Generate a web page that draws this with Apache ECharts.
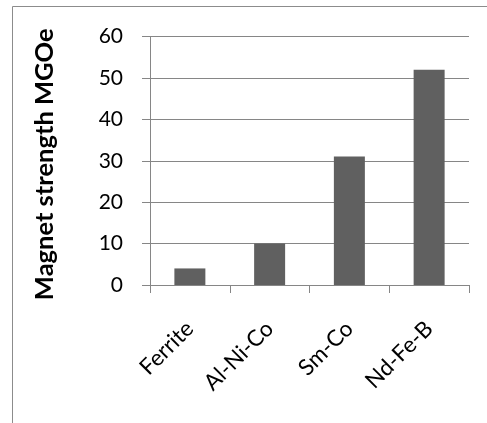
<!DOCTYPE html>
<html><head><meta charset="utf-8">
<script src="https://cdn.jsdelivr.net/npm/echarts@6/dist/echarts.min.js"></script>
<style>html,body{margin:0;padding:0;background:#fff}#c{width:487px;height:423px}</style>
</head><body><div id="c"></div>
<script>
const categories = ['Ferrite', 'Al-Ni-Co', 'Sm-Co', 'Nd-Fe-B'];
const strengthValues = [4, 10, 31, 52];
const yAxisTitle = 'Magnet strength MGOe';

const chart = echarts.init(document.getElementById('c'), null, {renderer: 'canvas'});
const gray = '#868686';
chart.setOption({
  animation: false,
  backgroundColor: '#fff',
  graphic: [{
    type: 'rect', shape: {x: 12.5, y: 6.5, width: 600, height: 600},
    style: {fill: 'none', stroke: '#8c8c8c', lineWidth: 1}, silent: true
  }],
  grid: {left: 150, right: 18, top: 36.5, bottom: 138, containLabel: false},
  xAxis: {
    type: 'category', data: categories,
    axisLine: {lineStyle: {color: gray, width: 1}},
    axisTick: {show: true, length: 8, lineStyle: {color: gray}},
    axisLabel: {rotate: 45, margin: 40, verticalAlign: 'middle', color: '#000', fontFamily: 'Lato', fontSize: 22.5}
  },
  yAxis: {
    type: 'value', min: 0, max: 60, interval: 10,
    name: yAxisTitle, nameLocation: 'middle', nameGap: 92, nameRotate: 90,
    nameTextStyle: {fontFamily: 'Lato', fontWeight: 'bold', fontSize: 25.5, color: '#000', padding: [0, 7, 0, 0]},
    axisLine: {show: true, lineStyle: {color: gray, width: 1}},
    axisTick: {show: true, length: 8, lineStyle: {color: gray}},
    splitLine: {show: true, lineStyle: {color: gray, width: 1}},
    axisLabel: {margin: 27, color: '#000', fontFamily: 'Lato', fontSize: 21}
  },
  series: [{
    type: 'bar', data: strengthValues, barWidth: 31,
    itemStyle: {color: '#606060'}
  }]
});
</script></body></html>
